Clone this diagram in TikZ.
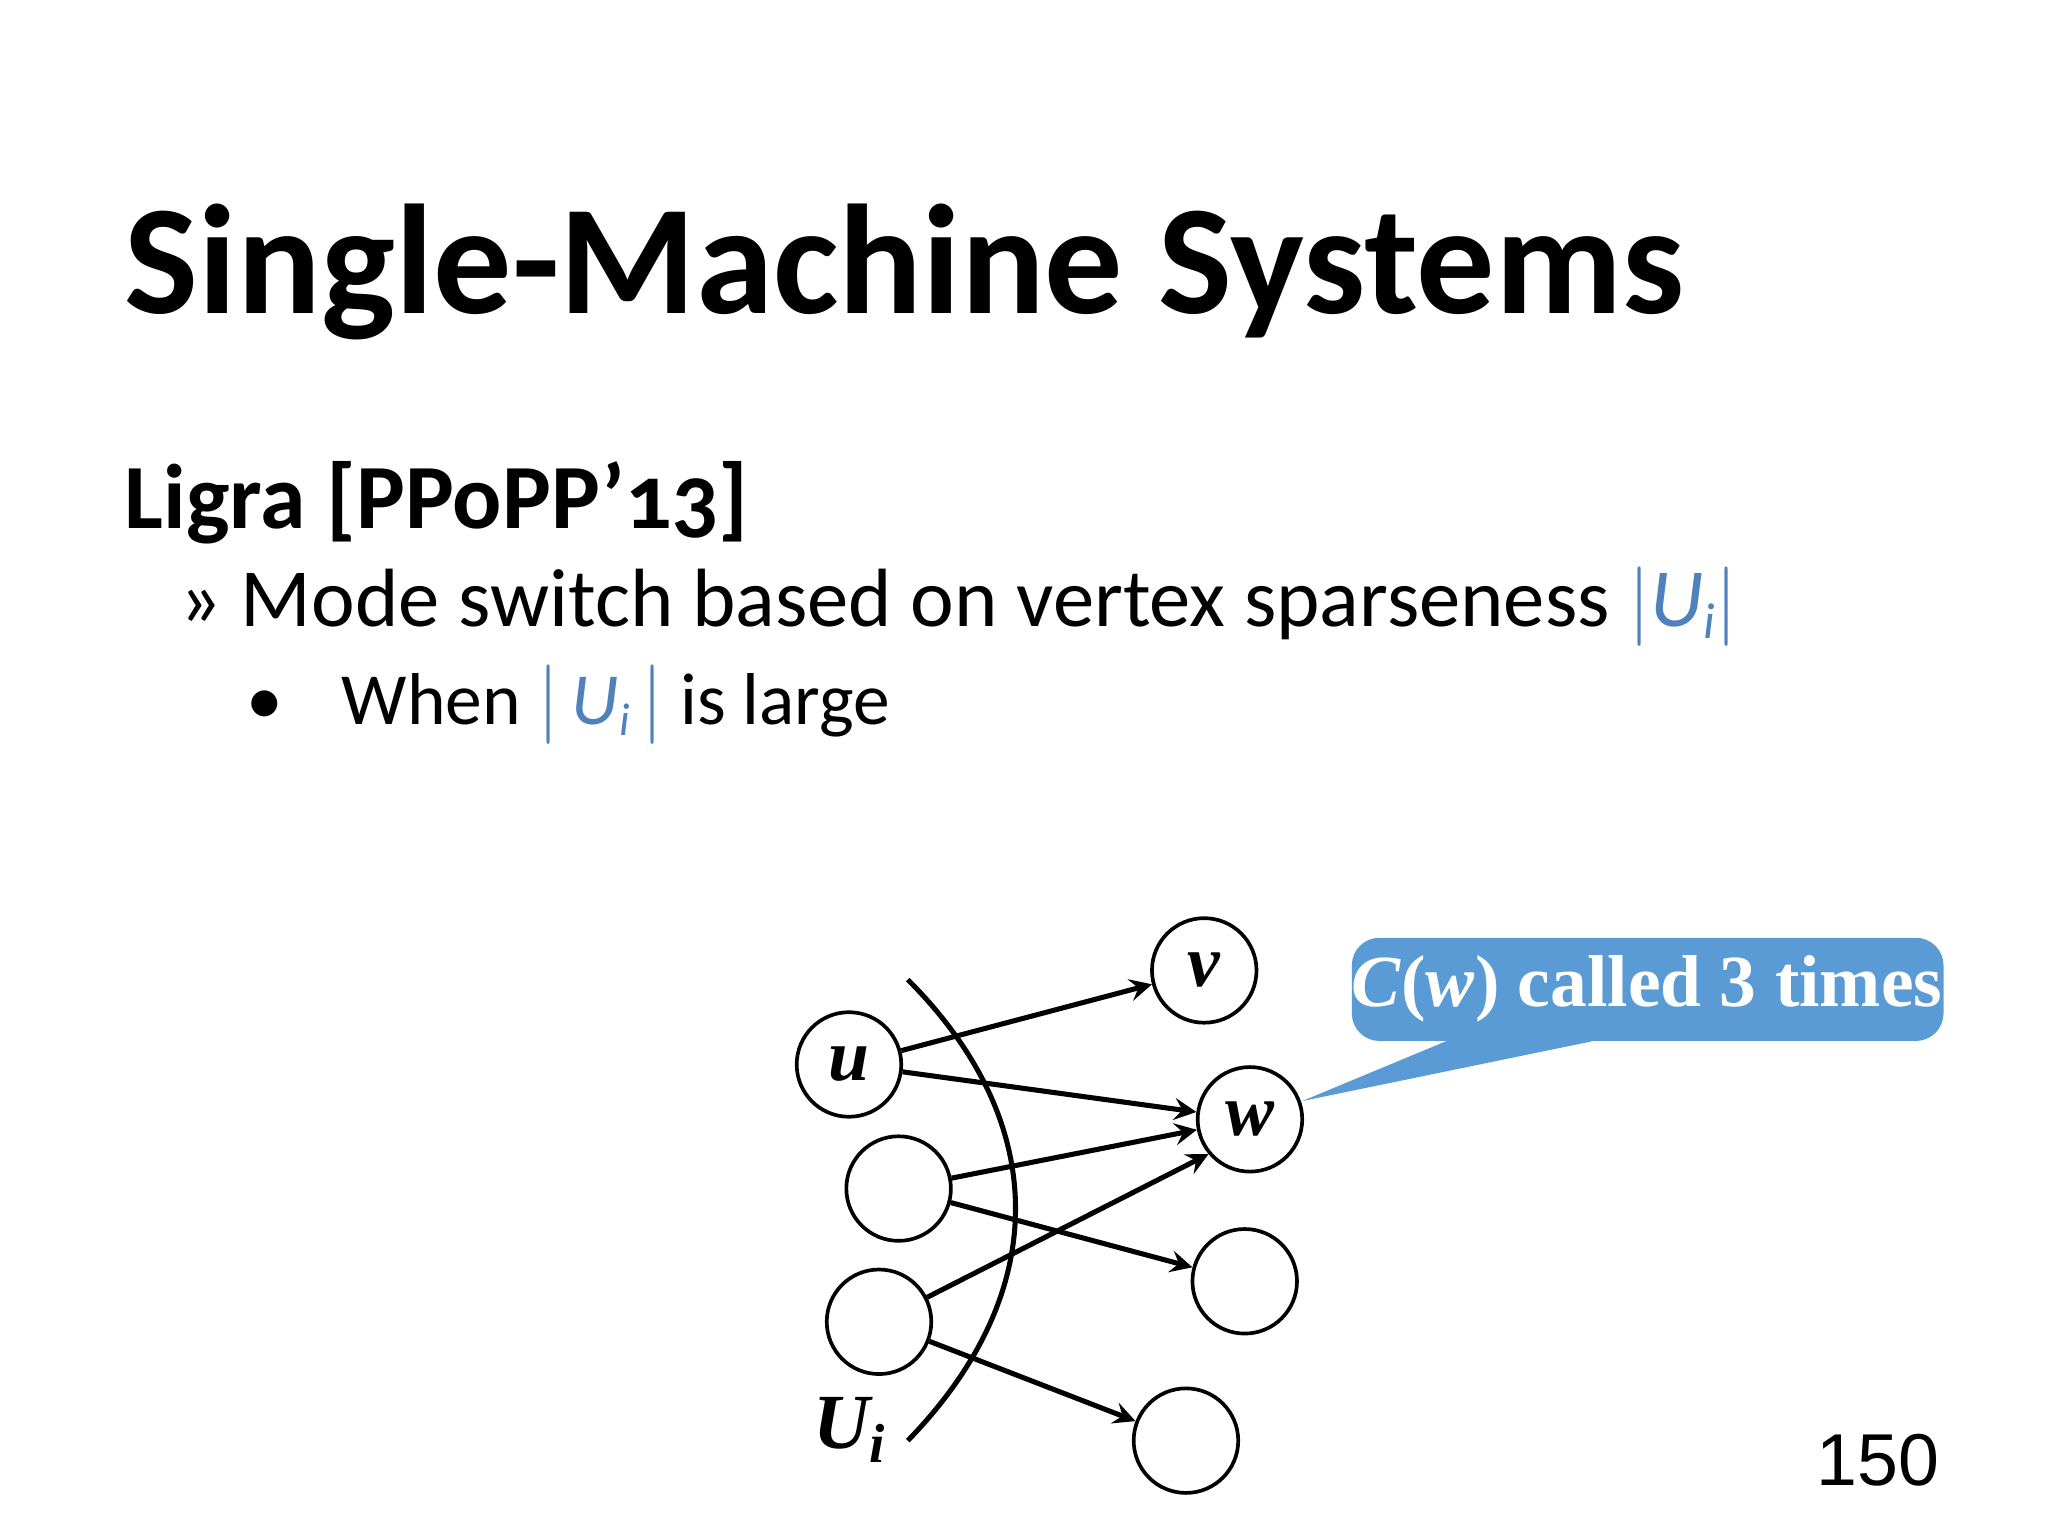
\documentclass[tikz,border=0pt]{standalone}
\usepackage{fontspec}
\setmainfont{Carlito}[Numbers=OldStyle]
\newfontfamily\numfont{Liberation Sans}
\newfontfamily\serifb{Liberation Serif}
\begin{document}
\begin{tikzpicture}[x=0.01cm,y=-0.01cm,
  vtx/.style={circle,draw,line width=0.8pt,minimum size=0.8cm,inner sep=0pt,font=\serifb\bfseries\itshape\fontsize{16}{16}\selectfont},
  arr/.style={-stealth,line width=1.1pt}]
\useasboundingbox (0,0) rectangle (1568,1176);
\definecolor{ublue}{HTML}{4F81BD}
\definecolor{cblue}{HTML}{5B9BD5}
\node[anchor=base west,inner sep=0pt,font=\bfseries\fontsize{34}{34}\selectfont] (title) at (95,240) {Single-Machine Systems};
\node[anchor=base west,inner sep=0pt,font=\bfseries\fontsize{20}{20}\selectfont] (ligra) at (95,405) {Ligra [PPoPP’13]};
\node[anchor=base west,inner sep=0pt,font=\fontsize{18}{18}\selectfont] (l1) at (137,480) {» Mode switch based on vertex sparseness \textcolor{ublue}{$|$\textit{U}\raisebox{-0.3ex}{\fontsize{11}{11}\selectfont\textit{i}}$|$}};
\node[anchor=base west,inner sep=0pt,font=\fontsize{16}{16}\selectfont] (l2) at (188,555) {•\hspace{0.8em}When \textcolor{ublue}{$|$\,\textit{U}\raisebox{-0.3ex}{\fontsize{10}{10}\selectfont\textit{i}}\,$|$} is large};
\node[vtx] (u) at (650,815) {u};
\node[vtx] (v) at (922,743) {v};
\node[vtx] (w) at (957,857) {w};
\node[vtx] (a) at (688,910) {};
\node[vtx] (b) at (673,1012) {};
\node[vtx] (c) at (953,981) {};
\node[vtx] (d) at (908,1103) {};
\draw[line width=1.1pt] (695,750) .. controls (805,860) and (805,990) .. (695,1103);
\node[font=\serifb\bfseries\itshape\fontsize{17}{17}\selectfont] (ui) at (650,1095) {U\raisebox{-0.4ex}{\fontsize{12}{12}\selectfont i}};
\draw[arr] (u) -- (v);
\draw[arr] (u) -- (w);
\draw[arr] (a) -- (w);
\draw[arr] (a) -- (c);
\draw[arr] (b) -- (w.220);
\draw[arr] (b) -- (d);
\fill[cblue,rounded corners=6pt] (1035,718) rectangle (1488,797);
\fill[cblue] (1110,796) -- (1225,796) -- (997,843) -- cycle;
\node[text=white,font=\serifb\bfseries\fontsize{16}{16}\selectfont] (cw) at (1261,757) {\textit{C}(\textit{w}) called 3 times};
\node[anchor=base,font=\numfont\fontsize{16}{16}\selectfont] (pg) at (1438,1137) {150};
\end{tikzpicture}
\end{document}
